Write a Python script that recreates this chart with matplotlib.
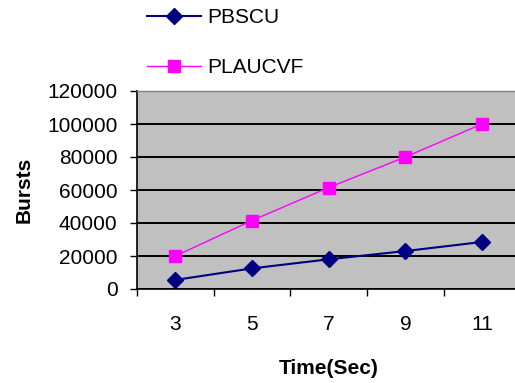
import matplotlib
matplotlib.use("Agg")
import matplotlib.pyplot as plt
from matplotlib.ticker import FixedLocator, NullFormatter

plt.rcParams['font.family'] = ['Liberation Sans', 'DejaVu Sans']

time_sec = ["3", "5", "7", "9", "11"]
pbscu = [5500, 12500, 18000, 23000, 28500]
plaucvf = [20000, 41500, 61500, 80000, 100000]
y_ticks = [0, 20000, 40000, 60000, 80000, 100000, 120000]

W, H = 515, 383
fig = plt.figure(figsize=(W / 100, H / 100), dpi=100)
ax = fig.add_axes([137 / W, 1 - 289 / H, 1 - 137 / W, (289 - 91) / H])
ax.set_facecolor("#C0C0C0")

x = list(range(len(time_sec)))
l1, = ax.plot(x, pbscu, color="#000080", lw=1.5, marker="D", ms=8.5,
              mfc="#000080", mec="#000080", label="PBSCU", clip_on=False, zorder=4)
l2, = ax.plot(x, plaucvf, color="#FF00FF", lw=1.0, marker="s", ms=9,
              mfc="#FF00FF", mec="#FF00FF", label="PLAUCVF", clip_on=False, zorder=4)

# value axis
ax.set_ylim(0, 120000)
ax.set_yticks(y_ticks)
ax.set_yticklabels([str(v) for v in y_ticks])
ax.yaxis.grid(True, color="black", lw=1.4)
ax.set_axisbelow(True)
ax.tick_params(axis="y", direction="out", length=5, width=1, pad=9,
               labelsize=15, colors="black")

# category axis: labels centred, ticks on the boundaries
ax.set_xlim(-0.5, 4.43)
ax.set_xticks(x)
ax.set_xticklabels(time_sec)
ax.xaxis.set_minor_locator(FixedLocator([-0.5, 0.5, 1.5, 2.5, 3.5]))
ax.xaxis.set_minor_formatter(NullFormatter())
ax.tick_params(axis="x", which="major", length=0, pad=19, labelsize=15)
ax.tick_params(axis="x", which="minor", direction="out", length=5, width=1)

for side in ("left", "bottom"):
    ax.spines[side].set_color("black")
    ax.spines[side].set_linewidth(1.2)
ax.spines["top"].set_color("#808080")
ax.spines["top"].set_linewidth(1.0)
ax.spines["right"].set_visible(False)

ax.set_xlabel("Time(Sec)", fontsize=15, fontweight="bold")
ax.xaxis.set_label_coords((329 - 137) / 378, (289 - 359) / 198)
ax.set_ylabel("Bursts", fontsize=15, fontweight="bold")
ax.yaxis.set_label_coords((34 - 137) / 378, 0.5)

fig.legend(handles=[l1, l2], loc="upper left",
           bbox_to_anchor=(147 / W, 1 - 8 / H), frameon=False,
           fontsize=15, handlelength=2.6, handletextpad=0.3,
           labelspacing=1.5, borderpad=0, borderaxespad=0)

fig.savefig("out.png", dpi=100, facecolor="white")
